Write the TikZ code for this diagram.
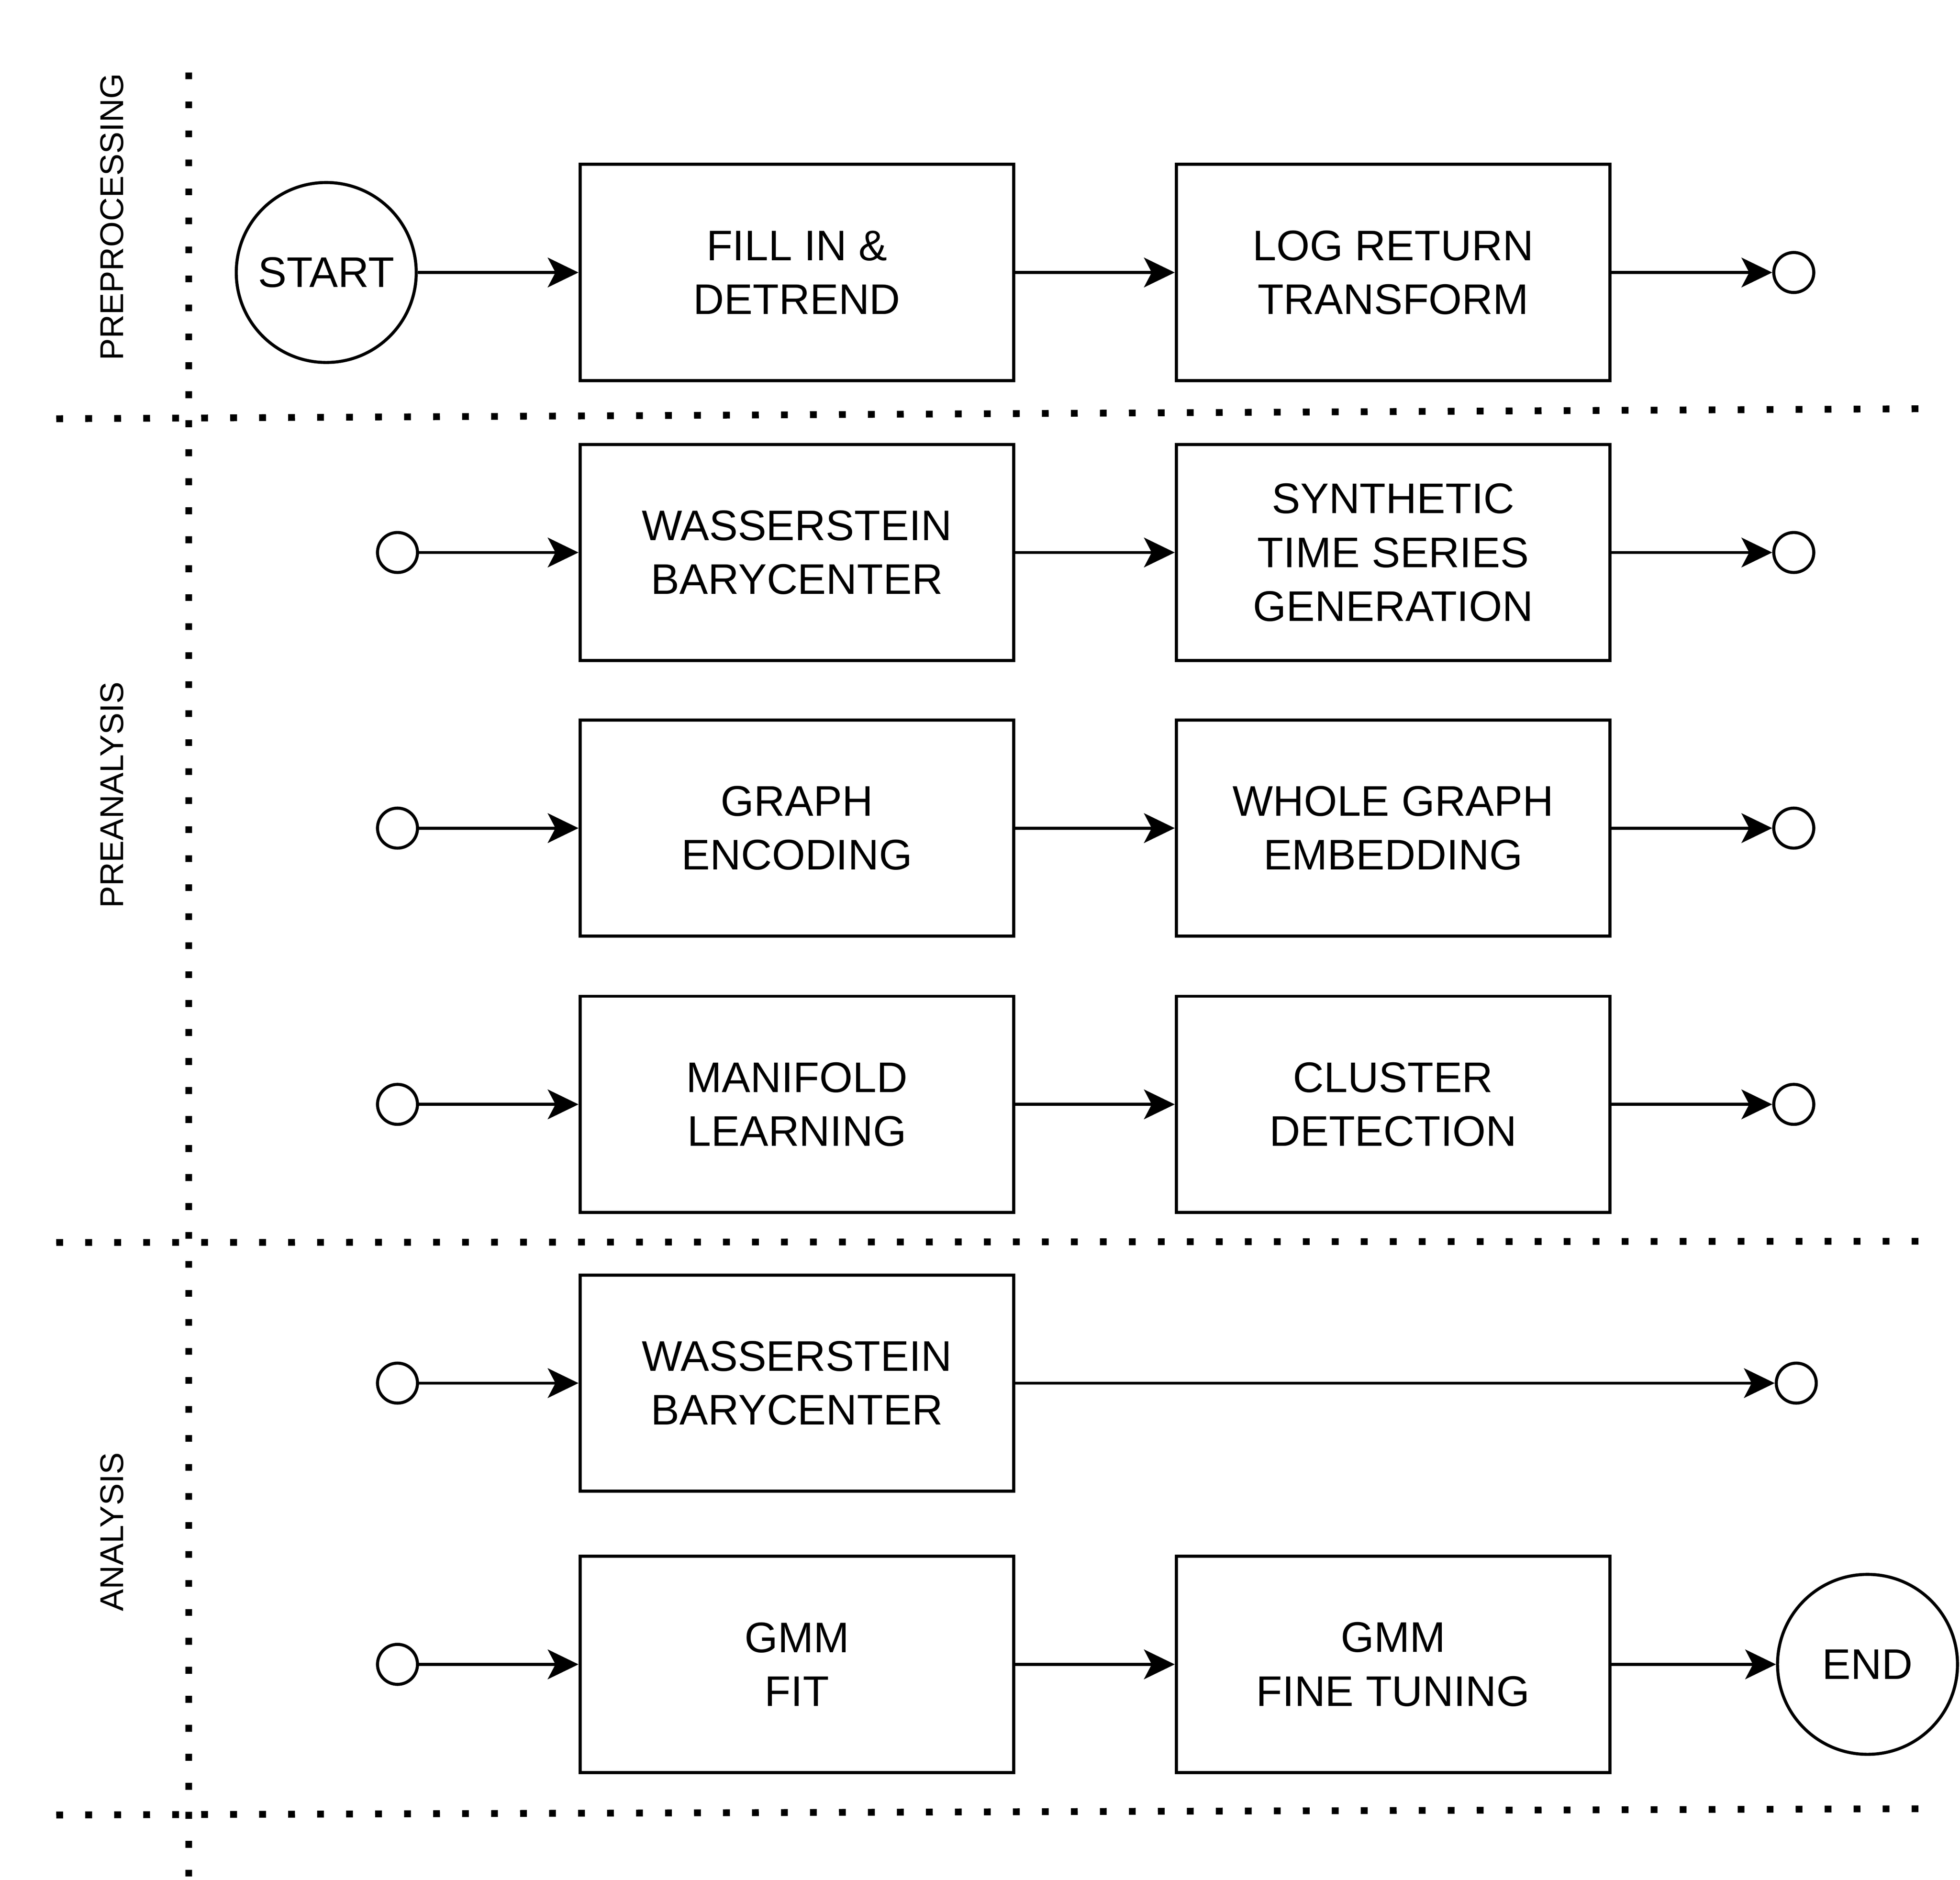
\documentclass[tikz,border=0pt]{standalone}
\usepackage{fontspec}
\setmainfont{Liberation Sans}
\usetikzlibrary{arrows.meta}

\tikzset{
  stepbox/.style={draw, line width=1.4pt, minimum width=6.94cm, minimum height=3.46cm, inner sep=0pt, align=center, font=\fontsize{19.5}{24.5}\selectfont},
  term/.style={draw, circle, line width=1.4pt, minimum size=2.88cm, inner sep=0pt, font=\fontsize{19.5}{24.5}\selectfont},
  port/.style={draw, circle, line width=1.4pt, minimum size=0.64cm, inner sep=0pt},
  lane/.style={line width=3.1pt, dash pattern=on 3.1pt off 10.1pt},
  flow/.style={-{Stealth[length=14pt,width=13.5pt,inset=3.5pt]}, line width=1.4pt},
  phase/.style={rotate=90, inner sep=0pt, font=\fontsize{15}{18}\selectfont}
}

\begin{document}
\begin{tikzpicture}[x=0.02cm,y=-0.02cm]

\def\colA{637.5}
\def\colB{1114.5}

\useasboundingbox (0,0) rectangle (1568,1504);

% phase separators
\draw[lane] (151,58)--(151,1504);
\draw[lane] (45,335)--(1535,327);
\draw[lane] (45,994)--(1535,993);
\draw[lane] (45,1452)--(1535,1447);

\node[phase] (pre) at (89.5,173.5) {PREPROCESSING};
\node[phase] (prean) at (89.5,636) {PREANALYSIS};
\node[phase] (ana) at (89.5,1225.5) {ANALYSIS};

% preprocessing
\node[term] (start) at (261,218) {START};
\node[stepbox] (fill) at (\colA,218) {FILL IN \&\\DETREND};
\node[stepbox] (logret) at (\colB,218) {LOG RETURN\\TRANSFORM};
\node[port] (out1) at (1435,218) {};

\draw[flow] (start)--(fill);
\draw[flow] (fill)--(logret);
\draw[flow] (logret)--(out1);

% preanalysis
\node[port] (in2) at (318,442) {};
\node[stepbox] (wbary) at (\colA,442) {WASSERSTEIN\\BARYCENTER};
\node[stepbox] (synth) at (\colB,442) {SYNTHETIC\\TIME SERIES\\GENERATION};
\node[port] (out2) at (1435,442) {};

\node[port] (in3) at (318,662.5) {};
\node[stepbox] (genc) at (\colA,662.5) {GRAPH\\ENCODING};
\node[stepbox] (gemb) at (\colB,662.5) {WHOLE GRAPH\\EMBEDDING};
\node[port] (out3) at (1435,662.5) {};

\node[port] (in4) at (318,883.5) {};
\node[stepbox] (mani) at (\colA,883.5) {MANIFOLD\\LEARNING};
\node[stepbox] (clus) at (\colB,883.5) {CLUSTER\\DETECTION};
\node[port] (out4) at (1435,883.5) {};

\draw[flow] (in2)--(wbary);
\draw[flow] (wbary)--(synth);
\draw[flow] (synth)--(out2);
\draw[flow] (in3)--(genc);
\draw[flow] (genc)--(gemb);
\draw[flow] (gemb)--(out3);
\draw[flow] (in4)--(mani);
\draw[flow] (mani)--(clus);
\draw[flow] (clus)--(out4);

% analysis
\node[port] (in5) at (318,1106.5) {};
\node[stepbox] (wbaryB) at (\colA,1106.5) {WASSERSTEIN\\BARYCENTER};
\node[port] (out5) at (1437,1106.5) {};

\node[port] (in6) at (318,1331.5) {};
\node[stepbox] (gmmfit) at (\colA,1331.5) {GMM\\FIT};
\node[stepbox] (gmmtune) at (\colB,1331.5) {GMM\\FINE TUNING};
\node[term] (end) at (1494,1331.5) {END};

\draw[flow] (in5)--(wbaryB);
\draw[flow] (wbaryB)--(out5);
\draw[flow] (in6)--(gmmfit);
\draw[flow] (gmmfit)--(gmmtune);
\draw[flow] (gmmtune)--(end);

\end{tikzpicture}
\end{document}
